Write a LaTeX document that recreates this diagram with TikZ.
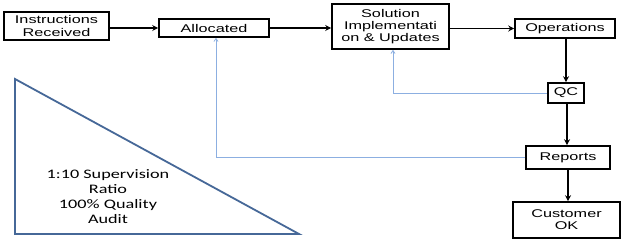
\documentclass[tikz,border=0pt]{standalone}
\usepackage{fontspec}
\newfontfamily\boxfont[FakeStretch=1.45]{Liberation Sans}
\newfontfamily\trifont[FakeStretch=1.4]{Carlito}
\usetikzlibrary{arrows.meta}
\definecolor{triblue}{RGB}{70,104,152}
\definecolor{fbblue}{RGB}{140,175,225}
\begin{document}
\begin{tikzpicture}[x=1pt,y=-1pt,
  box/.style={draw=black,line width=1.6pt,inner sep=0pt,align=center,
    font=\boxfont\fontsize{11.2}{12.2}\selectfont},
  arr/.style={line width=1.6pt,-{Stealth[length=6pt,width=6pt,inset=2pt]}},
  fb/.style={draw=fbblue,line width=0.8pt,-{Straight Barb[length=3pt,width=4pt]}}]
\path[fill=white] (0,0) rectangle (628,243);
\useasboundingbox (0,0) rectangle (628,243);
\node[box,minimum width=105pt,minimum height=28pt] (instr) at (56.5,26) {Instructions\\Received};
\node[box,minimum width=110pt,minimum height=18pt] (alloc) at (214,28) {Allocated};
\node[box,minimum width=117pt,minimum height=45pt] (sol) at (390.5,26.5) {Solution\\Implementati\\on \& Updates};
\node[box,minimum width=100pt,minimum height=19pt] (ops) at (565,28.5) {Operations};
\node[box,minimum width=36pt,minimum height=20pt] (qc) at (566,93) {QC};
\node[box,minimum width=84pt,minimum height=23pt] (rep) at (568,157.5) {Reports};
\node[box,minimum width=107pt,minimum height=36pt] (cust) at (566.5,220) {Customer\\OK};
\draw[arr] (instr.east |- alloc) -- (alloc.west);
\draw[arr] (alloc.east) -- (alloc.east -| sol.west);
\draw[arr] (sol.east |- ops) -- (ops.west);
\draw[arr] (qc.north |- ops.south) -- (qc.north);
\draw[arr] ([xshift=1pt]qc.south) -- ([xshift=1pt]qc.south |- rep.north);
\draw[arr] (rep.south) -- (rep.south |- cust.north);
\draw[fb] (qc.west) -| ([xshift=2.5pt]sol.south);
\draw[fb] (rep.west) -| ([xshift=2pt]alloc.south);
\coordinate (t1) at (15,79);
\coordinate (t2) at (15,234);
\coordinate (t3) at (299,234);
\draw[triblue,line width=1.8pt,line join=miter] (t1) -- (t2) -- (t3) -- cycle;
\node[align=center,inner sep=0pt,font=\trifont\fontsize{13}{15}\selectfont] (tri) at (108,196.5)
  {1:10 Supervision\\Ratio\\100\% Quality\\Audit};
\end{tikzpicture}
\end{document}
